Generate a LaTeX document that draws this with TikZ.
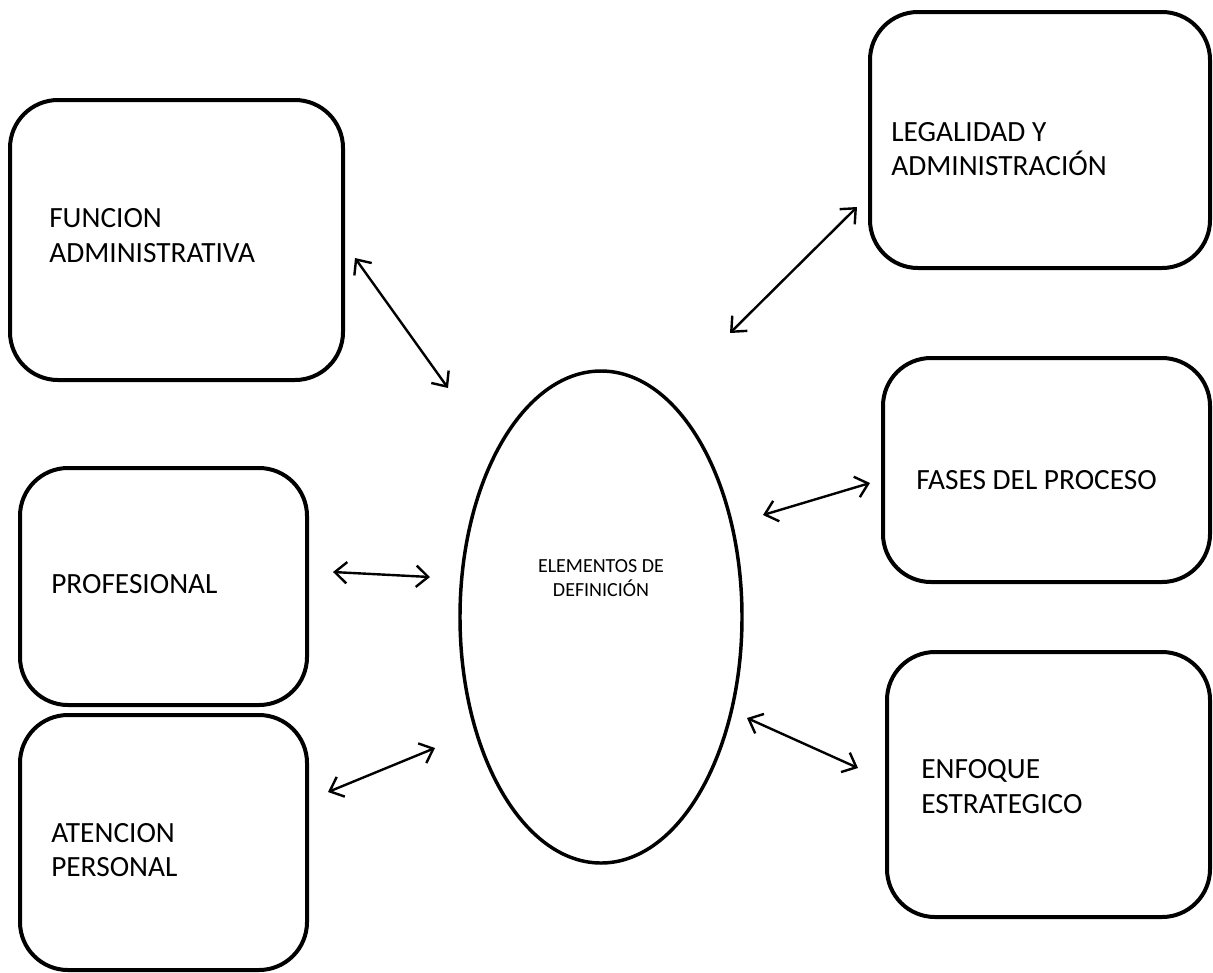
\documentclass[tikz,border=0pt]{standalone}
\usepackage{fontspec}
\setmainfont{Carlito}
\usetikzlibrary{arrows.meta,shapes.geometric}

\tikzset{
  roundbox/.style={draw, line width=3pt, rounded corners=36pt, inner sep=0pt},
  boxtext/.style={anchor=west, inner sep=0.75pt, align=left, font=\fontsize{22}{26}\selectfont},
  link/.style={line width=1.8pt, {Straight Barb[length=9pt,width=16pt]}-{Straight Barb[length=9pt,width=16pt]}}
}

\begin{document}
\begin{tikzpicture}[x=0.75pt,y=0.75pt,yscale=-1,xscale=1]
\useasboundingbox (0,0) rectangle (1213,972);

%Shape: Ellipse
\node (elem) [ellipse, draw, line width=2.6pt, minimum width=211.5pt, minimum height=369pt, inner sep=0pt] at (601,617) {};
% Text Node
\node (elemtxt) [inner sep=0.75pt, align=center, font=\fontsize{15}{18.5}\selectfont] at (601,578) {ELEMENTOS DE\\DEFINICIÓN};

%Shape: Rounded boxes, left
\node (funcion) [roundbox, minimum width=249.75pt, minimum height=210pt] at (176.5,240) {};
\node (profesional) [roundbox, minimum width=215.25pt, minimum height=177.75pt] at (163.5,586.5) {};
\node (atencion) [roundbox, minimum width=215.25pt, minimum height=191.25pt] at (163.5,842.5) {};
%Shape: Rounded boxes, right
\node (legalidad) [roundbox, minimum width=255pt, minimum height=192pt] at (1040,140) {};
\node (fases) [roundbox, minimum width=245.25pt, minimum height=168pt] at (1046.5,470) {};
\node (enfoque) [roundbox, minimum width=242.25pt, minimum height=198.75pt] at (1048.5,784.5) {};

% Text Node
\node (funciontxt) [boxtext] at (48,235.5) {FUNCION\\ADMINISTRATIVA};
% Text Node
\node (profesionaltxt) [boxtext] at (50,584) {PROFESIONAL};
% Text Node
\node (atenciontxt) [boxtext] at (50,850) {ATENCION\\PERSONAL};
% Text Node
\node (legalidadtxt) [boxtext] at (890,149) {LEGALIDAD Y\\ADMINISTRACIÓN};
% Text Node
\node (fasestxt) [boxtext] at (915,480) {FASES DEL PROCESO};
% Text Node
\node (enfoquetxt) [boxtext] at (920,786.5) {ENFOQUE\\ESTRATEGICO};

%Straight Lines: arrow ends
\coordinate (a1s) at (355,258);  \coordinate (a1e) at (448,388);
\coordinate (a2s) at (333,572);  \coordinate (a2e) at (430,577);
\coordinate (a3s) at (328,792);  \coordinate (a3e) at (435,748);
\coordinate (a4s) at (730,333);  \coordinate (a4e) at (857,207);
\coordinate (a5s) at (763,515);  \coordinate (a5e) at (870,483);
\coordinate (a6s) at (747,718);  \coordinate (a6e) at (858,768);

\draw [link] (a1s) -- (a1e);
\draw [link] (a2s) -- (a2e);
\draw [link] (a3s) -- (a3e);
\draw [link] (a4s) -- (a4e);
\draw [link] (a5s) -- (a5e);
\draw [link] (a6s) -- (a6e);

\end{tikzpicture}
\end{document}
